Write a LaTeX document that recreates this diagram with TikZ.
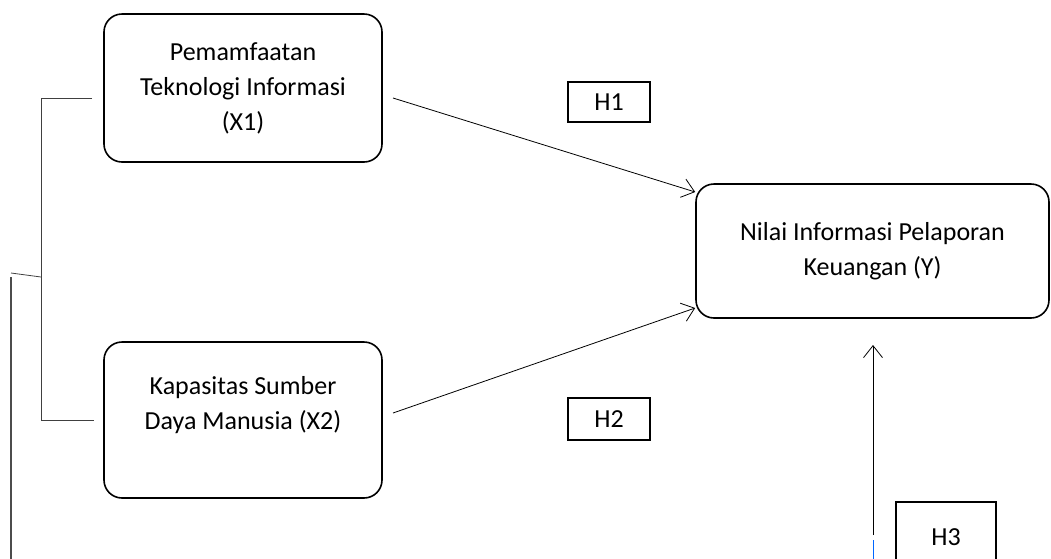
\documentclass[tikz,border=0pt]{standalone}
\usepackage{fontspec}
\setmainfont{Carlito}
\usetikzlibrary{arrows.meta}

\tikzset{
  varbox/.style={draw, line width=1.6pt, rounded corners=18pt, align=center,
    font=\fontsize{26}{35}\selectfont, inner sep=0pt},
  hypbox/.style={draw, line width=1.3pt, font=\fontsize{26}{30}\selectfont, inner sep=0pt},
  link/.style={line width=0.8pt, -{Straight Barb[length=12pt, width=19pt]}},
}

\begin{document}
\begin{tikzpicture}[x=1pt, y=-1pt]
        \useasboundingbox (0,0) rectangle (1051,558);
        % variabel
        \node[varbox, minimum width=278pt, minimum height=148pt] (x1) at (243,88) {Pemamfaatan\\Teknologi Informasi\\(X1)};
        \node[varbox, minimum width=278pt, minimum height=156pt] (x2) at (243,420) {Kapasitas Sumber\\Daya Manusia (X2)\\\mbox{}};
        \node[varbox, minimum width=353pt, minimum height=134pt] (y) at (872.5,251) {Nilai Informasi Pelaporan\\Keuangan (Y)};
        % hipotesis
        \node[hypbox, minimum width=82pt, minimum height=40pt] (h1) at (609,102) {H1};
        \node[hypbox, minimum width=82pt, minimum height=42pt] (h2) at (609,419) {H2};
        \node[hypbox, minimum width=100pt, minimum height=70pt] (h3) at (946,537) {H3};
        % garis kiri
        \coordinate (b1) at (92,98);
        \coordinate (b2) at (94,420);
        \coordinate (bt) at (41,98);
        \coordinate (bb) at (41,420);
        \coordinate (bm) at (41,277);
        \coordinate (lt) at (11,273);
        \coordinate (lb) at (11,560);
        \draw[line width=0.8pt, black!75] (b1) -- (bt) -- (bb) -- (b2);
        \draw[line width=0.8pt, black!75] (bm) -- (lt);
        \draw[line width=1.2pt, black!70] (11,277) -- (lb);
        % panah
        \coordinate (a1) at (393,98);
        \coordinate (a2) at (393,413);
        \coordinate (a3) at (873,535);
        \draw[link] (a1) -- (y.north west |- 0,192) ;
        \draw[link] (a2) -- (y.north west |- 0,308);
        \draw[link] (a3) -- (873,345);
        \draw[line width=1pt, blue!60!cyan] (873,540) -- (873,560);
\end{tikzpicture}
\end{document}
